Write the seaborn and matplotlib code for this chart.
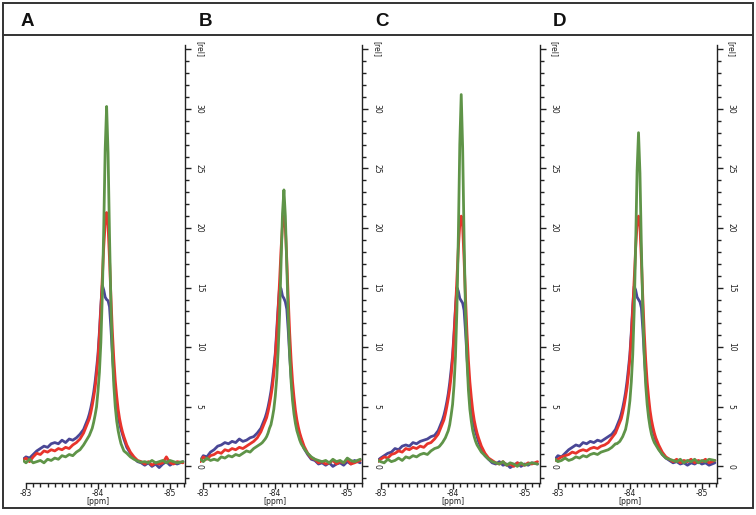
import matplotlib
matplotlib.use("Agg")
import matplotlib.pyplot as plt
import seaborn as sns
from matplotlib.ticker import MultipleLocator, FixedLocator
from matplotlib.patches import Rectangle
from matplotlib.lines import Line2D
import matplotlib.transforms as mtransforms

# ---------------- data ----------------
panel_labels = ["A", "B", "C", "D"]

ppm = [-82.96, -83.00, -83.05, -83.10, -83.15, -83.20, -83.25, -83.30, -83.35, -83.40,
       -83.45, -83.50, -83.55, -83.60, -83.65, -83.70, -83.75, -83.80,
       -83.82, -83.84, -83.86, -83.88, -83.90, -83.92, -83.94, -83.96, -83.98, -84.00,
       -84.02, -84.04, -84.06, -84.08, -84.10, -84.12, -84.14, -84.16, -84.18, -84.20,
       -84.22, -84.24, -84.26, -84.28, -84.30, -84.32, -84.34, -84.36,
       -84.40, -84.45, -84.50, -84.55, -84.60, -84.65, -84.70, -84.75, -84.80, -84.85,
       -84.90, -84.95, -85.00, -85.05, -85.10, -85.18]

blue_A = [0.6, 0.8, 0.7, 1.0, 1.3, 1.5, 1.7, 1.6, 1.9, 2.0, 1.9, 2.2, 2.0, 2.3, 2.2, 2.4, 2.7, 3.1,
          3.4, 3.7, 4.0, 4.4, 4.9, 5.5, 6.2, 7.1, 8.2, 9.4, 11.3, 13.5, 15.2, 14.8, 14.2, 14.0,
          13.9, 13.4, 11.6, 9.5, 7.6, 6.2, 5.1, 4.3, 3.6, 3.1, 2.7, 2.3,
          1.6, 1.1, 0.7, 0.4, 0.3, 0.1, 0.3, 0.0, 0.2, -0.1, 0.2, 0.4, 0.1, 0.3, 0.2, 0.4]
red_A = [0.5, 0.7, 0.4, 0.8, 1.1, 1.0, 1.3, 1.2, 1.4, 1.3, 1.5, 1.4, 1.6, 1.5, 1.8, 2.0, 2.3, 2.8,
         3.1, 3.4, 3.7, 4.0, 4.5, 5.1, 5.8, 6.6, 7.7, 9.1, 11.0, 13.2, 15.8, 18.4, 20.4, 21.3,
         20.2, 17.4, 14.2, 11.3, 9.0, 7.2, 5.9, 4.8, 4.0, 3.4, 2.9, 2.5,
         1.8, 1.2, 0.8, 0.5, 0.4, 0.2, 0.4, 0.1, 0.3, 0.2, 0.3, 0.8, 0.3, 0.2, 0.4, 0.3]
green_A = [0.5, 0.3, 0.6, 0.3, 0.4, 0.5, 0.3, 0.6, 0.5, 0.7, 0.6, 0.9, 0.8, 1.0, 0.9, 1.2, 1.4, 1.8,
           2.0, 2.2, 2.4, 2.6, 2.9, 3.2, 3.7, 4.3, 5.0, 6.3, 7.9, 10.4, 14.3, 20.0, 26.6, 30.2,
           26.3, 19.4, 13.5, 9.4, 6.8, 5.0, 3.8, 3.0, 2.4, 1.9, 1.6, 1.3,
           1.1, 0.8, 0.6, 0.45, 0.35, 0.4, 0.3, 0.5, 0.3, 0.4, 0.5, 0.3, 0.5, 0.4, 0.3, 0.4]

blue_B = [0.5, 0.9, 0.8, 1.2, 1.4, 1.7, 1.8, 2.0, 1.9, 2.1, 2.0, 2.3, 2.1, 2.2, 2.4, 2.5, 2.8, 3.2,
          3.5, 3.8, 4.1, 4.5, 5.0, 5.6, 6.3, 7.2, 8.3, 9.5, 11.4, 13.4, 15.1, 14.9, 14.3, 14.1,
          13.8, 13.2, 11.4, 9.3, 7.5, 6.1, 5.0, 4.2, 3.5, 3.0, 2.6, 2.2,
          1.5, 1.0, 0.6, 0.5, 0.2, 0.3, 0.1, 0.3, 0.0, 0.2, 0.3, 0.1, 0.4, 0.2, 0.5, 0.3]
red_B = [0.4, 0.8, 0.6, 0.9, 1.0, 1.2, 1.1, 1.4, 1.3, 1.5, 1.4, 1.6, 1.5, 1.7, 1.9, 2.1, 2.4, 2.9,
         3.2, 3.5, 3.8, 4.1, 4.6, 5.2, 5.9, 6.7, 7.8, 9.2, 11.0, 13.1, 15.6, 18.2, 20.2, 21.0,
         20.0, 17.3, 14.1, 11.2, 8.9, 7.1, 5.8, 4.7, 3.9, 3.3, 2.8, 2.4,
         1.7, 1.1, 0.7, 0.6, 0.3, 0.4, 0.2, 0.3, 0.5, 0.2, 0.4, 0.3, 0.6, 0.2, 0.3, 0.5]
green_B = [0.6, 0.4, 0.7, 0.5, 0.6, 0.5, 0.8, 0.7, 0.9, 0.8, 1.0, 0.9, 1.1, 1.3, 1.2, 1.5, 1.7, 1.9,
           2.0, 2.15, 2.3, 2.5, 2.8, 3.2, 3.5, 4.1, 4.8, 5.9, 7.4, 9.7, 12.8, 17.0, 21.2, 23.2,
           21.0, 16.8, 12.6, 9.4, 7.1, 5.5, 4.4, 3.6, 3.0, 2.6, 2.2, 1.9,
           1.5, 1.1, 0.8, 0.6, 0.5, 0.4, 0.5, 0.3, 0.6, 0.4, 0.5, 0.3, 0.7, 0.5, 0.4, 0.6]

blue_C = [0.5, 0.7, 0.9, 1.1, 1.2, 1.5, 1.4, 1.7, 1.8, 1.7, 2.0, 1.9, 2.1, 2.2, 2.3, 2.5, 2.6, 3.0,
          3.3, 3.6, 3.9, 4.3, 4.8, 5.4, 6.1, 7.0, 8.1, 9.3, 11.2, 13.3, 15.0, 14.7, 14.1, 13.9,
          13.7, 13.1, 11.3, 9.2, 7.4, 6.0, 4.9, 4.1, 3.4, 2.9, 2.5, 2.1,
          1.5, 0.9, 0.6, 0.3, 0.2, 0.4, 0.1, 0.2, -0.1, 0.1, 0.3, 0.0, 0.2, 0.1, 0.3, 0.2]
red_C = [0.4, 0.6, 0.8, 0.7, 1.0, 1.1, 1.3, 1.2, 1.5, 1.4, 1.6, 1.5, 1.7, 1.6, 1.9, 2.0, 2.3, 2.7,
         3.0, 3.3, 3.6, 3.9, 4.4, 5.0, 5.7, 6.5, 7.6, 9.0, 10.9, 13.1, 15.7, 18.3, 20.3, 21.0,
         20.1, 17.3, 14.1, 11.2, 8.9, 7.1, 5.8, 4.7, 3.9, 3.3, 2.8, 2.4,
         1.7, 1.1, 0.7, 0.5, 0.3, 0.2, 0.4, 0.1, 0.2, 0.0, 0.3, 0.2, 0.1, 0.3, 0.2, 0.4]
green_C = [0.5, 0.4, 0.3, 0.6, 0.4, 0.5, 0.7, 0.5, 0.8, 0.7, 0.9, 0.8, 1.0, 1.1, 1.0, 1.3, 1.5, 1.6,
           1.7, 1.85, 2.0, 2.2, 2.4, 2.7, 3.0, 3.5, 4.3, 5.2, 6.8, 9.2, 13.1, 19.3, 27.0, 31.2,
           26.7, 19.0, 12.8, 8.9, 6.4, 4.8, 3.8, 3.0, 2.5, 2.1, 1.8, 1.6,
           1.2, 0.9, 0.6, 0.4, 0.3, 0.2, 0.4, 0.1, 0.3, 0.2, 0.0, 0.3, 0.1, 0.2, 0.3, 0.2]

blue_D = [0.6, 0.9, 0.8, 1.1, 1.4, 1.6, 1.8, 1.7, 2.0, 1.9, 2.1, 2.0, 2.2, 2.1, 2.3, 2.5, 2.7, 3.1,
          3.4, 3.7, 4.0, 4.4, 4.9, 5.5, 6.2, 7.1, 8.2, 9.4, 11.3, 13.5, 15.1, 14.8, 14.2, 14.0,
          13.8, 13.3, 11.5, 9.4, 7.5, 6.1, 5.0, 4.2, 3.5, 3.0, 2.6, 2.2,
          1.5, 1.0, 0.7, 0.5, 0.3, 0.4, 0.2, 0.3, 0.1, 0.3, 0.2, 0.4, 0.2, 0.3, 0.1, 0.3]
red_D = [0.5, 0.6, 0.8, 0.9, 1.0, 1.2, 1.1, 1.3, 1.4, 1.3, 1.5, 1.6, 1.5, 1.7, 1.8, 2.0, 2.4, 2.8,
         3.1, 3.4, 3.7, 4.0, 4.5, 5.1, 5.8, 6.6, 7.7, 9.1, 11.0, 13.2, 15.7, 18.3, 20.3, 21.0,
         20.1, 17.3, 14.1, 11.2, 8.9, 7.1, 5.8, 4.7, 3.9, 3.3, 2.8, 2.4,
         1.8, 1.2, 0.8, 0.6, 0.4, 0.6, 0.3, 0.5, 0.4, 0.6, 0.3, 0.5, 0.4, 0.6, 0.3, 0.5]
green_D = [0.6, 0.4, 0.5, 0.7, 0.5, 0.6, 0.8, 0.7, 0.9, 0.8, 1.0, 1.1, 1.0, 1.2, 1.3, 1.4, 1.6, 1.9,
           1.9, 2.0, 2.1, 2.3, 2.5, 2.8, 3.1, 3.7, 4.5, 5.5, 7.1, 9.4, 13.1, 18.5, 24.8, 28.0,
           24.6, 18.3, 12.9, 9.2, 6.8, 5.2, 4.1, 3.3, 2.7, 2.3, 2.0, 1.8,
           1.4, 1.0, 0.7, 0.6, 0.5, 0.4, 0.6, 0.3, 0.5, 0.4, 0.6, 0.3, 0.5, 0.4, 0.6, 0.5]

spectra = {
    "A": [blue_A, red_A, green_A],
    "B": [blue_B, red_B, green_B],
    "C": [blue_C, red_C, green_C],
    "D": [blue_D, red_D, green_D],
}
line_colors = ["#4a4796", "#e8342c", "#5f9448"]

x_major = [-83, -84, -85]
x_tick_labels = ["-83", "-84", "-85"]
y_major = [0, 5, 10, 15, 20, 25, 30, 35]
y_tick_labels = ["0", "5", "10", "15", "20", "25", "30", "[rel]"]

# ---------------- figure ----------------
sns.set_style("white")
plt.rcParams['font.family'] = ['DejaVu Sans']
plt.rcParams['axes.unicode_minus'] = False

W, H = 756, 515
fig = plt.figure(figsize=(W / 100, H / 100), dpi=100)

# outer frame and header separator
frame_col = "#333333"
fig.add_artist(Rectangle((3.3 / W, (H - 507.7) / H), 750 / W, 505 / H,
                         transform=fig.transFigure, fill=False,
                         edgecolor=frame_col, linewidth=1.4))
fig.add_artist(Line2D([3.3 / W, 753.3 / W], [(H - 35) / H, (H - 35) / H],
                      transform=fig.transFigure, color=frame_col, linewidth=1.4))

ax_left0 = 23.1
ax_step = 177.3
ax_w = 162.0
ax_bottom = (H - 482.5) / H
ax_h = 438.0 / H

for k, lab in enumerate(panel_labels):
    ax = fig.add_axes([(ax_left0 + k * ax_step) / W, ax_bottom, ax_w / W, ax_h])
    ax.patch.set_alpha(0)
    for vals, col in zip(spectra[lab], line_colors):
        sns.lineplot(x=ppm, y=vals, ax=ax, color=col, linewidth=2.0,
                     estimator=None, sort=False)
    ax.set_xlim(-82.96, -85.21)
    ax.set_ylim(-1.35, 35.4)

    for s in ["left", "top"]:
        ax.spines[s].set_visible(False)
    for s in ["right", "bottom"]:
        ax.spines[s].set_visible(True)
        ax.spines[s].set_color("#222222")
        ax.spines[s].set_linewidth(1.0)
    ax.spines["bottom"].set_bounds(-85.21, -83.0)

    ax.yaxis.tick_right()
    ax.yaxis.set_label_position("right")
    ax.yaxis.set_major_locator(FixedLocator(y_major))
    ax.yaxis.set_minor_locator(MultipleLocator(1))
    ax.set_yticklabels(y_tick_labels, rotation=-90, va="center", ha="left")
    ax.tick_params(axis="y", which="major", direction="out", length=4, width=1.0,
                   pad=3, labelsize=5.5, colors="#222222", right=True, left=False)
    ax.tick_params(axis="y", which="minor", direction="out", length=3, width=1.0,
                   right=True, left=False, colors="#222222")

    ax.xaxis.set_major_locator(FixedLocator(x_major))
    ax.xaxis.set_minor_locator(MultipleLocator(0.1))
    ax.set_xticklabels(x_tick_labels)
    ax.tick_params(axis="x", which="major", direction="out", length=4.5, width=1.0,
                   pad=0.5, labelsize=5.5, colors="#222222", bottom=True)
    ax.tick_params(axis="x", which="minor", direction="out", length=3, width=1.0,
                   bottom=True, colors="#222222")
    ax.set_xlabel("")
    ax.set_ylabel("")

    trans = mtransforms.blended_transform_factory(ax.transData, ax.transAxes)
    ax.text(-84.0, -0.0335, "[ppm]", transform=trans, ha="center", va="top",
            fontsize=5.5, color="#222222")

    fig.text((21 + k * ax_step) / W, (H - 21.5) / H, lab, ha="left", va="center",
             fontsize=13.5, fontweight="bold", family=["Liberation Sans", "DejaVu Sans"],
             color="#111111")

fig.savefig("out.png", dpi=100)
